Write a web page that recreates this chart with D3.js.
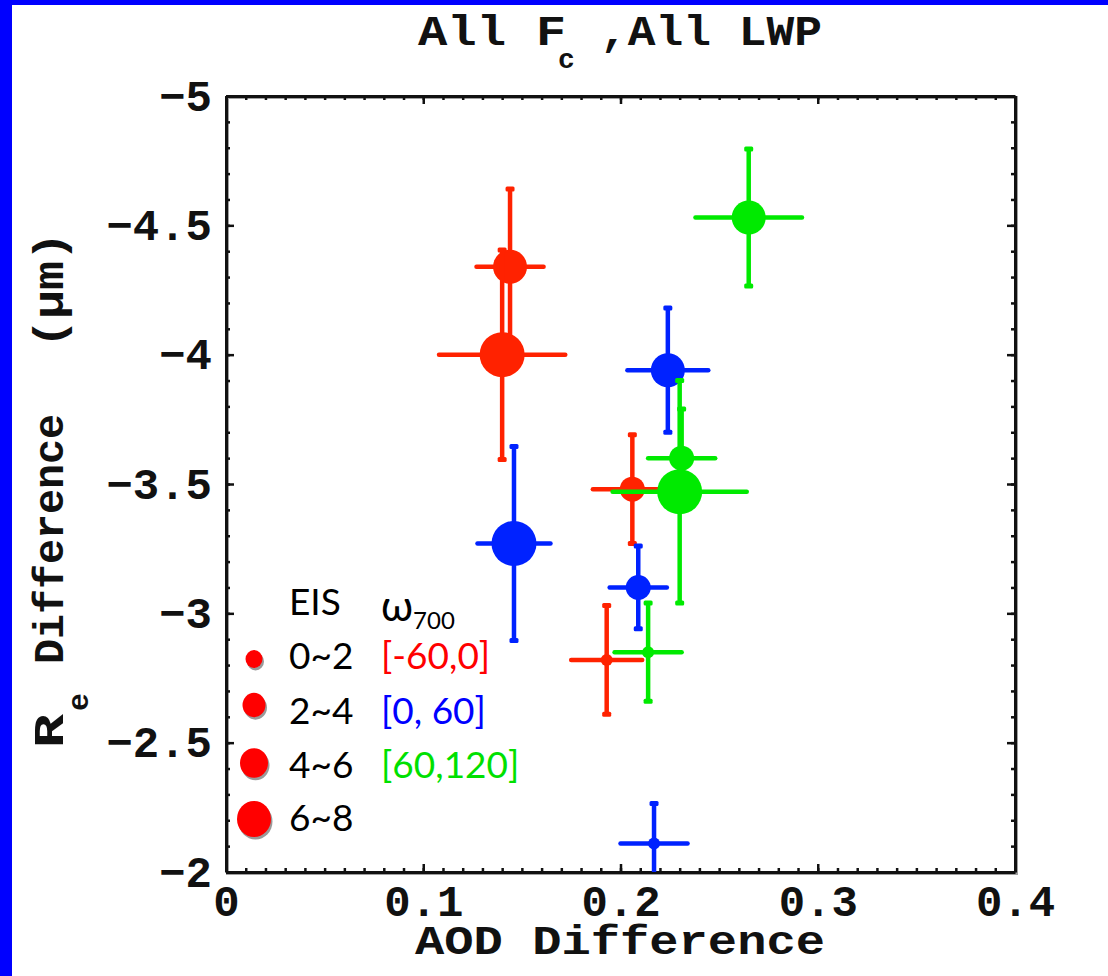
<!DOCTYPE html>
<html><head><meta charset="utf-8">
<script src="https://cdn.jsdelivr.net/npm/d3@7"></script>
<style>
html,body{margin:0;padding:0;background:#fff;}
svg{display:block;}
</style></head><body>
<svg id="chart" width="1108" height="976"></svg>
<script>
// Bins used for marker size (EIS) and colour (omega_700)
const eisBins = ["0~2", "2~4", "4~6", "6~8"];
const omegaBins = ["[-60,0]", "[0, 60]", "[60,120]"];

// AOD difference / Re difference (um) per EIS bin, with error half-widths
const aodNeg = [0.193, 0.206, 0.144, 0.140];
const reNeg = [-2.82, -3.48, -4.34, -4.00];
const aodErrNeg = [0.018, 0.020, 0.017, 0.032];
const reErrNeg = [0.21, 0.21, 0.30, 0.405];

const aodLow = [0.217, 0.209, 0.224, 0.146];
const reLow = [-2.11, -3.10, -3.94, -3.27];
const aodErrLow = [0.017, 0.0145, 0.0205, 0.0185];
const reErrLow = [0.155, 0.16, 0.24, 0.375];

const aodHigh = [0.214, 0.231, 0.265, 0.230];
const reHigh = [-2.85, -3.60, -4.53, -3.47];
const aodErrHigh = [0.017, 0.017, 0.027, 0.034];
const reErrHigh = [0.19, 0.19, 0.265, 0.43];

// Axis ticks
const xTicks = [0, 0.1, 0.2, 0.3, 0.4];
const xTickLabels = ["0", "0.1", "0.2", "0.3", "0.4"];
const yTicks = [-5, -4.5, -4, -3.5, -3, -2.5, -2];
const yTickLabels = ["\u22125", "\u22124.5", "\u22124", "\u22123.5", "\u22123", "\u22122.5", "\u22122"];

const W = 1108, H = 976;
const L = 226, R = 1015, T = 96, B = 872;
const mono = "'Liberation Mono', 'DejaVu Sans Mono', monospace";
const sans = "Lato, 'Open Sans', sans-serif";

const svg = d3.select("#chart");
const x = d3.scaleLinear().domain([0, 0.4]).range([L, R]);
const y = d3.scaleLinear().domain([-5, -2]).range([T, B]);

const plotColor = d3.scaleOrdinal(omegaBins, ["#ff2200", "#0022ff", "#00ea00"]);
const legendColor = d3.scaleOrdinal(omegaBins, ["#ff0000", "#0000ff", "#00e000"]);
const markerR = d3.scaleOrdinal(eisBins, [6, 12.5, 17, 22.5]);
const legendR = d3.scaleOrdinal(eisBins, [8.5, 11.5, 14, 17]);

// background and frame
svg.append("rect").attr("width", W).attr("height", H).attr("fill", "#fff");
svg.append("rect").attr("x", 0).attr("y", 0).attr("width", W).attr("height", 5).attr("fill", "#0000ff");
svg.append("rect").attr("x", 0).attr("y", 0).attr("width", 12).attr("height", H).attr("fill", "#0000ff");

// soft shadow behind the plot box
svg.append("rect").attr("x", L + 1.5).attr("y", T + 1.5)
  .attr("width", R - L).attr("height", B - T)
  .attr("fill", "none").attr("stroke", "#a0a0a0").attr("stroke-width", 3);

function styleAxis(g, keepDomain) {
  if (keepDomain) g.select(".domain").attr("stroke", "#111").attr("stroke-width", 3);
  else g.select(".domain").remove();
  g.selectAll(".tick line").attr("stroke", "#111").attr("stroke-width", 2.5);
  g.selectAll("text").attr("font-family", mono).attr("font-weight", "bold")
    .attr("font-size", 44).attr("fill", "#111");
}

// minor ticks on all four sides
svg.append("g").attr("transform", `translate(0,${B})`)
  .call(d3.axisBottom(x).ticks(40).tickFormat("").tickSize(-4).tickSizeOuter(0)).call(g => styleAxis(g, false));
svg.append("g").attr("transform", `translate(0,${T})`)
  .call(d3.axisTop(x).ticks(40).tickFormat("").tickSize(-4).tickSizeOuter(0)).call(g => styleAxis(g, false));
svg.append("g").attr("transform", `translate(${L},0)`)
  .call(d3.axisLeft(y).ticks(30).tickFormat("").tickSize(-4).tickSizeOuter(0)).call(g => styleAxis(g, false));
svg.append("g").attr("transform", `translate(${R},0)`)
  .call(d3.axisRight(y).ticks(30).tickFormat("").tickSize(-4).tickSizeOuter(0)).call(g => styleAxis(g, false));

// major ticks and labels
svg.append("g").attr("transform", `translate(0,${B})`)
  .call(d3.axisBottom(x).tickValues(xTicks).tickFormat((d, i) => xTickLabels[i])
    .tickSize(-8).tickSizeOuter(0).tickPadding(13)).call(g => styleAxis(g, true));
svg.append("g").attr("transform", `translate(0,${T})`)
  .call(d3.axisTop(x).tickValues(xTicks).tickFormat("").tickSize(-8).tickSizeOuter(0)).call(g => styleAxis(g, true));
svg.append("g").attr("transform", `translate(${L},0)`)
  .call(d3.axisLeft(y).tickValues(yTicks).tickFormat((d, i) => yTickLabels[i])
    .tickSize(-8).tickSizeOuter(0).tickPadding(14)).call(g => styleAxis(g, true));
svg.append("g").attr("transform", `translate(${R},0)`)
  .call(d3.axisRight(y).tickValues(yTicks).tickFormat("").tickSize(-8).tickSizeOuter(0)).call(g => styleAxis(g, true));

// data points with error bars
svg.append("clipPath").attr("id", "plotClip").append("rect")
  .attr("x", L).attr("y", T).attr("width", R - L).attr("height", B - T);
const plot = svg.append("g").attr("clip-path", "url(#plotClip)");

const series = [
  { bin: omegaBins[0], aod: aodNeg, re: reNeg, ea: aodErrNeg, er: reErrNeg },
  { bin: omegaBins[1], aod: aodLow, re: reLow, ea: aodErrLow, er: reErrLow },
  { bin: omegaBins[2], aod: aodHigh, re: reHigh, ea: aodErrHigh, er: reErrHigh }
];

series.forEach(s => {
  const c = plotColor(s.bin);
  const pts = eisBins.map((e, i) => ({ eis: e, a: s.aod[i], r: s.re[i], ea: s.ea[i], er: s.er[i] }));
  const g = plot.append("g");
  const p = g.selectAll("g.pt").data(pts).join("g").attr("class", "pt");
  p.append("line")
    .attr("x1", d => x(d.a - d.ea)).attr("x2", d => x(d.a + d.ea))
    .attr("y1", d => y(d.r)).attr("y2", d => y(d.r))
    .attr("stroke", c).attr("stroke-width", 4.5).attr("stroke-linecap", "round");
  p.append("line")
    .attr("x1", d => x(d.a)).attr("x2", d => x(d.a))
    .attr("y1", d => y(d.r - d.er)).attr("y2", d => y(d.r + d.er))
    .attr("stroke", c).attr("stroke-width", 4.5);
  [-1, 1].forEach(sg => {
    p.append("rect")
      .attr("x", d => x(d.a) - 4.5).attr("y", d => y(d.r + sg * d.er) - 2.5)
      .attr("width", 9).attr("height", 5).attr("rx", 1.5).attr("fill", c);
  });
  p.append("circle")
    .attr("cx", d => x(d.a)).attr("cy", d => y(d.r))
    .attr("r", d => markerR(d.eis)).attr("fill", c);
});

// title
const title = svg.append("g").attr("font-family", mono).attr("font-weight", "bold").attr("fill", "#111");
title.append("text").attr("x", 418).attr("y", 45).attr("font-size", 42)
  .attr("textLength", 88).attr("lengthAdjust", "spacingAndGlyphs").text("All");
title.append("text").attr("x", 536).attr("y", 45).attr("font-size", 42)
  .attr("textLength", 30).attr("lengthAdjust", "spacingAndGlyphs").text("F");
title.append("text").attr("x", 558).attr("y", 68).attr("font-size", 28).text("c");
title.append("text").attr("x", 600).attr("y", 45).attr("font-size", 42)
  .attr("textLength", 222).attr("lengthAdjust", "spacingAndGlyphs").text(",All LWP");

// x axis title
svg.append("text").attr("x", 415).attr("y", 954)
  .attr("font-family", mono).attr("font-weight", "bold").attr("font-size", 40).attr("fill", "#111")
  .attr("textLength", 410).attr("lengthAdjust", "spacingAndGlyphs").text("AOD Difference");

// y axis title (rotated)
const yt = svg.append("g").attr("transform", "translate(63,748) rotate(-90)")
  .attr("font-family", mono).attr("font-weight", "bold").attr("fill", "#111");
yt.append("text").attr("x", 0).attr("y", 0).attr("font-size", 42)
  .attr("textLength", 34).attr("lengthAdjust", "spacingAndGlyphs").text("R");
yt.append("text").attr("x", 37).attr("y", 25).attr("font-size", 30).text("e");
yt.append("text").attr("x", 84).attr("y", 0).attr("font-size", 42)
  .attr("textLength", 250).attr("lengthAdjust", "spacingAndGlyphs").text("Difference");
yt.append("text").attr("x", 400).attr("y", 0).attr("font-size", 42)
  .attr("textLength", 116).attr("lengthAdjust", "spacingAndGlyphs").text("(\u03bcm)");

// legend
const lg = svg.append("g").attr("font-family", sans).attr("font-size", 37);
lg.append("text").attr("x", 289).attr("y", 615).attr("fill", "#000").text("EIS");
const om = lg.append("text").attr("x", 381).attr("y", 621).attr("fill", "#000");
om.append("tspan").attr("font-size", 42).text("\u03c9");
om.append("tspan").attr("font-size", 24).attr("dy", 8).text("700");

const rowY = [669, 724, 778, 831];
const circY = [659, 705, 763, 819];
eisBins.forEach((e, i) => {
  lg.append("ellipse").attr("cx", 255.5).attr("cy", circY[i] + 2.5)
    .attr("rx", legendR(e)).attr("ry", legendR(e) * 1.06).attr("fill", "#9a9a9a");
  lg.append("ellipse").attr("cx", 254).attr("cy", circY[i])
    .attr("rx", legendR(e)).attr("ry", legendR(e) * 1.06).attr("fill", legendColor(omegaBins[0]));
  lg.append("text").attr("x", 289).attr("y", rowY[i]).attr("fill", "#000").text(e);
});
omegaBins.forEach((o, i) => {
  lg.append("text").attr("x", 381).attr("y", rowY[i]).attr("fill", legendColor(o)).text(o);
});
</script>
</body></html>
